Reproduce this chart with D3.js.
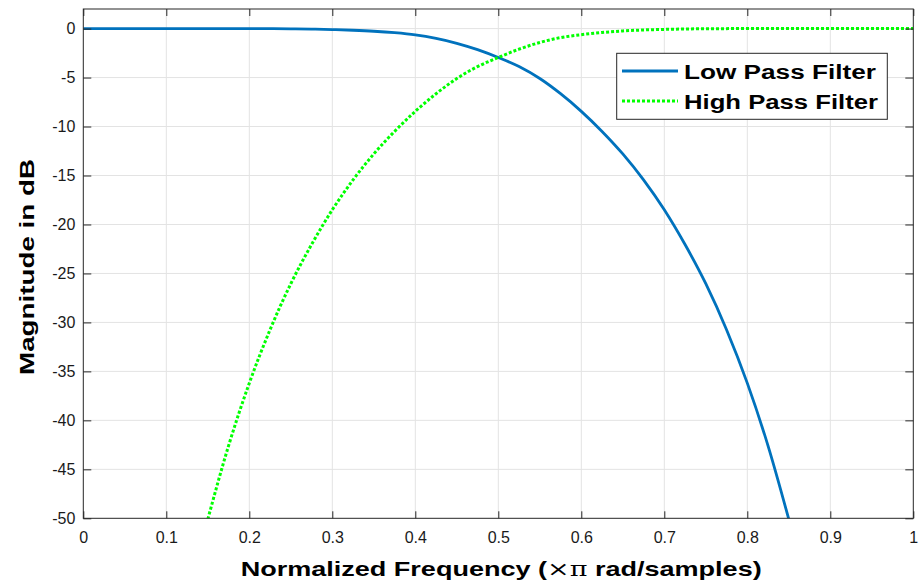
<!DOCTYPE html>
<html>
<head>
<meta charset="utf-8">
<script src="https://cdn.jsdelivr.net/npm/d3@7"></script>
<style>
  html, body { margin: 0; padding: 0; background: #fff; }
  svg { display: block; }
  text { font-family: "Liberation Sans", Arial, Helvetica, sans-serif; }
</style>
</head>
<body>
<svg id="chart" width="922" height="583"></svg>
<script>
// Magnitude responses (dB) of the two filters vs normalized frequency
const lowFreq = [0, 0.1, 0.2, 0.25, 0.275, 0.3, 0.325, 0.35, 0.375, 0.4, 0.425, 0.45, 0.475, 0.5,
                 0.525, 0.55, 0.575, 0.6, 0.625, 0.65, 0.675, 0.7, 0.725, 0.75, 0.775, 0.8, 0.825, 0.85];
const lowMag  = [0, 0, -0.005, -0.02, -0.05, -0.1, -0.17, -0.27, -0.42, -0.64, -1.0, -1.5, -2.15, -2.95,
                 -3.88, -5.1, -6.65, -8.45, -10.5, -12.8, -15.45, -18.5, -22.05, -26.05, -30.75, -36.2, -42.6, -50.1];

const highFreq = [0.15, 0.175, 0.2, 0.225, 0.25, 0.275, 0.3, 0.325, 0.35, 0.375, 0.4, 0.425, 0.45, 0.475,
                  0.5, 0.525, 0.55, 0.575, 0.6, 0.625, 0.65, 0.675, 0.7, 0.725, 0.75, 0.8, 0.9, 1.0];
const highMag  = [-50.1, -42.6, -36.2, -30.75, -26.05, -22.05, -18.5, -15.45, -12.8, -10.5, -8.45, -6.65, -5.1, -3.88,
                  -2.95, -2.1, -1.42, -0.92, -0.62, -0.4, -0.24, -0.14, -0.08, -0.04, -0.015, 0, 0, 0];

const xTicks = [0, 0.1, 0.2, 0.3, 0.4, 0.5, 0.6, 0.7, 0.8, 0.9, 1];
const yTicks = [0, -5, -10, -15, -20, -25, -30, -35, -40, -45, -50];
const seriesNames = ["Low Pass Filter", "High Pass Filter"];

const plotL = 83.3, plotR = 913.3, plotT = 9, plotB = 518.3;
const axisColor = "#262626";

const svg = d3.select("#chart");
const x = d3.scaleLinear().domain([0, 1]).range([plotL, plotR]);
const y = d3.scaleLinear().domain([-50, 2]).range([plotB, plotT]);

// grid
const grid = svg.append("g").attr("stroke", "#e3e3e3").attr("stroke-width", 1);
grid.selectAll("line.v").data(xTicks.slice(1, -1)).join("line")
  .attr("x1", d => x(d)).attr("x2", d => x(d)).attr("y1", plotT).attr("y2", plotB);
grid.selectAll("line.h").data(yTicks.slice(0, -1)).join("line")
  .attr("x1", plotL).attr("x2", plotR).attr("y1", d => y(d)).attr("y2", d => y(d));

// curves
svg.append("clipPath").attr("id", "plotArea").append("rect")
  .attr("x", plotL).attr("y", plotT).attr("width", plotR - plotL).attr("height", plotB - plotT);

const line = d3.line().x(d => x(d[0])).y(d => y(d[1])).curve(d3.curveMonotoneX);
const lowData = lowFreq.map((f, i) => [f, lowMag[i]]);
const highData = highFreq.map((f, i) => [f, highMag[i]]);

const plot = svg.append("g").attr("clip-path", "url(#plotArea)");
plot.append("path").datum(lowData).attr("d", line)
  .attr("fill", "none").attr("stroke", "#0072BD").attr("stroke-width", 2.8);
plot.append("path").datum(highData).attr("d", line)
  .attr("fill", "none").attr("stroke", "#00FF00").attr("stroke-width", 3)
  .attr("stroke-dasharray", "3,2");

// axes
const fmtX = d => (d === 0 || d === 1) ? String(d) : d3.format(".1f")(d);
const styleAxis = g => {
  g.select(".domain").remove();
  g.selectAll(".tick line").attr("stroke", axisColor);
  g.selectAll(".tick text").attr("fill", "#1a1a1a").style("font-size", "16px")
    .style("font-family", "'Liberation Sans', Arial, sans-serif");
};
svg.append("g").attr("transform", `translate(0,${plotB})`)
  .call(d3.axisBottom(x).tickValues(xTicks).tickFormat(fmtX).tickSizeInner(-7).tickSizeOuter(0).tickPadding(13))
  .call(styleAxis);
svg.append("g").attr("transform", `translate(0,${plotT})`)
  .call(d3.axisTop(x).tickValues(xTicks).tickFormat("").tickSizeInner(-7).tickSizeOuter(0))
  .call(styleAxis);
svg.append("g").attr("transform", `translate(${plotL},0)`)
  .call(d3.axisLeft(y).tickValues(yTicks).tickFormat(d => String(d)).tickSizeInner(-8).tickSizeOuter(0).tickPadding(8))
  .call(styleAxis);
svg.append("g").attr("transform", `translate(${plotR},0)`)
  .call(d3.axisRight(y).tickValues(yTicks).tickFormat("").tickSizeInner(-8).tickSizeOuter(0))
  .call(styleAxis);

svg.append("rect").attr("x", plotL).attr("y", plotT).attr("width", plotR - plotL).attr("height", plotB - plotT)
  .attr("fill", "none").attr("stroke", axisColor).attr("stroke-width", 1);

// axis labels
const xl = svg.append("text").attr("x", 240.7).attr("y", 575.5)
  .attr("textLength", 521).attr("lengthAdjust", "spacingAndGlyphs")
  .style("font-size", "21px").style("font-weight", "bold").attr("fill", "#000");
xl.append("tspan").text("Normalized Frequency (");
xl.append("tspan").style("font-weight", "normal").style("font-family", "'DejaVu Serif', serif").text("\u00D7\u03C0");
xl.append("tspan").text(" rad/samples)");

svg.append("text").attr("transform", "translate(34,267) rotate(-90)")
  .attr("text-anchor", "middle").attr("textLength", 216).attr("lengthAdjust", "spacingAndGlyphs")
  .style("font-size", "21px").style("font-weight", "bold").attr("fill", "#000")
  .text("Magnitude in dB");

// legend
const legend = svg.append("g");
legend.append("rect").attr("x", 616.7).attr("y", 53.3).attr("width", 270.6).attr("height", 66)
  .attr("fill", "#fff").attr("stroke", axisColor).attr("stroke-width", 1);
const legendRows = [
  { name: seriesNames[0], color: "#0072BD", dash: null, y: 71, base: 79.3, len: 192 },
  { name: seriesNames[1], color: "#00FF00", dash: "3,2", y: 101, base: 109.3, len: 194 }
];
legendRows.forEach(r => {
  legend.append("line").attr("x1", 622).attr("x2", 678).attr("y1", r.y).attr("y2", r.y)
    .attr("stroke", r.color).attr("stroke-width", 3).attr("stroke-dasharray", r.dash);
  legend.append("text").attr("x", 684).attr("y", r.base)
    .attr("textLength", r.len).attr("lengthAdjust", "spacingAndGlyphs")
    .style("font-size", "19.5px").style("font-weight", "bold").attr("fill", "#000").text(r.name);
});
</script>
</body>
</html>
